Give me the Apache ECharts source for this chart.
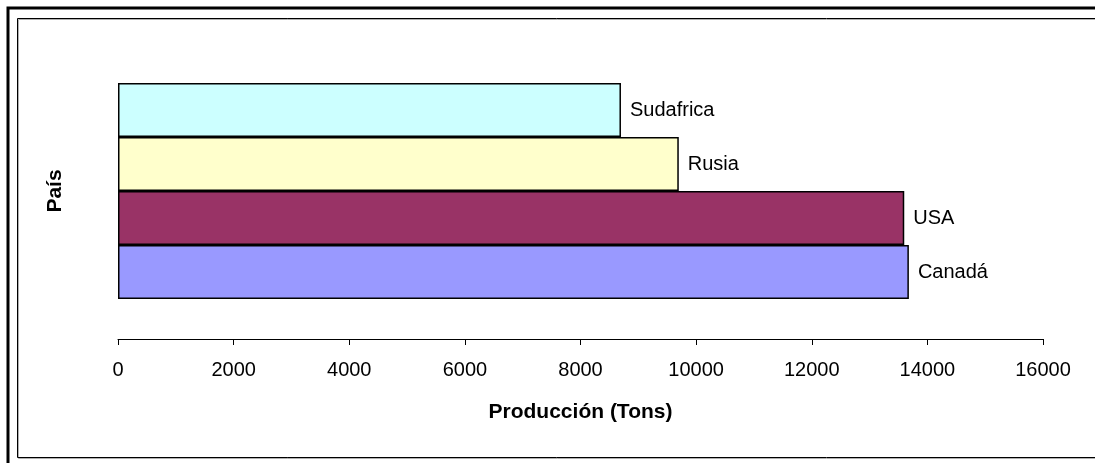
<!DOCTYPE html>
<html>
<head>
<meta charset="utf-8">
<title>Producción por país</title>
<script src="https://cdn.jsdelivr.net/npm/echarts@6/dist/echarts.min.js"></script>
<style>
  html, body { margin: 0; padding: 0; background: #ffffff; }
  #chart { width: 1095px; height: 463px; }
</style>
</head>
<body>
<div id="chart"></div>
<script>
// Countries listed bottom to top on the category axis
const countries = ['Canadá', 'USA', 'Rusia', 'Sudafrica'];
// Production in tons
const production = [13680, 13600, 9700, 8700];
// Value axis ticks
const axisMin = 0;
const axisMax = 16000;
const axisStep = 2000;

const barColors = ['#9999FF', '#993366', '#FFFFCC', '#CCFFFF'];
const FONT = '"Liberation Sans", Arial, sans-serif';

const chart = echarts.init(document.getElementById('chart'), null, { renderer: 'canvas' });

chart.setOption({
  animation: false,
  backgroundColor: '#ffffff',
  graphic: [
    // outer frame
    { type: 'rect', shape: { x: 8, y: 8, width: 1200, height: 600 },
      style: { fill: null, stroke: '#000000', lineWidth: 3 }, silent: true, z: 0 },
    // inner frame shadow
    { type: 'rect', shape: { x: 18.5, y: 19.5, width: 1200, height: 439 },
      style: { fill: null, stroke: '#b0b0b0', lineWidth: 1 }, silent: true, z: 0 },
    // inner frame
    { type: 'rect', shape: { x: 17.5, y: 18.5, width: 1200, height: 439 },
      style: { fill: null, stroke: '#000000', lineWidth: 1 }, silent: true, z: 0 }
  ],
  grid: { left: 118, right: 52, top: 83, height: 216, containLabel: false },
  xAxis: {
    type: 'value',
    min: axisMin,
    max: axisMax,
    interval: axisStep,
    offset: 40,
    name: 'Producción (Tons)',
    nameLocation: 'middle',
    nameGap: 63,
    nameTextStyle: { fontFamily: FONT, fontSize: 21, fontWeight: 'bold', color: '#000000' },
    axisLine: { show: true, lineStyle: { color: '#000000', width: 1 } },
    axisTick: { show: true, inside: false, length: 6, lineStyle: { color: '#000000' } },
    axisLabel: {
      fontFamily: FONT, fontSize: 20, color: '#000000', margin: 21,
      formatter: (v) => String(v)
    },
    splitLine: { show: false }
  },
  yAxis: {
    type: 'category',
    data: countries,
    name: 'País',
    nameLocation: 'middle',
    nameRotate: 90,
    nameGap: 52,
    nameTextStyle: { fontFamily: FONT, fontSize: 21, fontWeight: 'bold', color: '#000000' },
    axisLine: { show: false },
    axisTick: { show: false },
    axisLabel: { show: false },
    splitLine: { show: false }
  },
  series: [{
    type: 'bar',
    data: production.map((v, i) => ({
      value: v,
      itemStyle: { color: barColors[i] }
    })),
    barWidth: '100%',
    barCategoryGap: 0,
    itemStyle: { borderColor: '#000000', borderWidth: 1.5 },
    label: {
      show: true,
      position: 'right',
      distance: 9,
      formatter: '{b}',
      fontFamily: FONT,
      fontSize: 20,
      color: '#000000'
    }
  }]
});
</script>
</body>
</html>
